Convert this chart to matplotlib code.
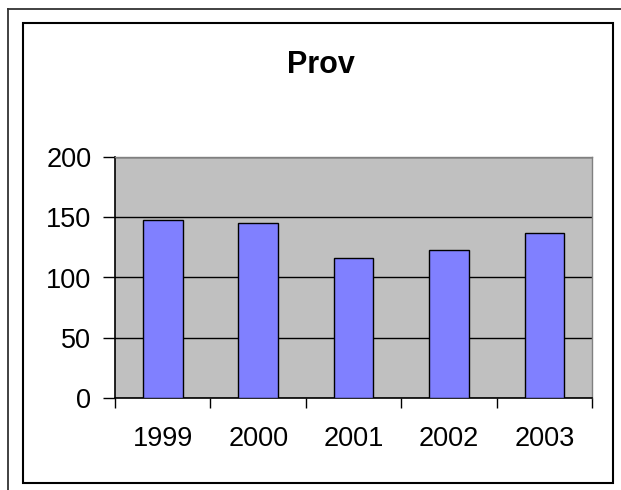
import matplotlib
matplotlib.use("Agg")
import matplotlib.pyplot as plt
from matplotlib.patches import Rectangle
from matplotlib.lines import Line2D

categories = ["1999", "2000", "2001", "2002", "2003"]
values = [148, 145, 116, 122.5, 137]
yticks = [0, 50, 100, 150, 200]
title = "Prov"

plt.rcParams['font.family'] = ['Liberation Sans', 'DejaVu Sans']

W, H = 621, 490
fig = plt.figure(figsize=(W / 100, H / 100), dpi=100)
fig.patch.set_facecolor("white")

# outer page border (left and top only visible)
fig.add_artist(Line2D([8 / W, 8 / W], [0, 1 - 9 / H], transform=fig.transFigure,
                      color="#333333", lw=1.3))
fig.add_artist(Line2D([8 / W, 1], [1 - 9 / H, 1 - 9 / H], transform=fig.transFigure,
                      color="#333333", lw=1.3))
# chart area border
fig.add_artist(Rectangle((22.5 / W, 1 - 483 / H), (612.7 - 22.5) / W, (483 - 23) / H,
                         transform=fig.transFigure, fill=False, edgecolor="black", lw=1.5))

left, right = 115 / W, 592.3 / W
bottom, top = 1 - 398.3 / H, 1 - 156.7 / H
ax = fig.add_axes([left, bottom, right - left, top - bottom])
ax.set_facecolor("#C0C0C0")

x = list(range(len(categories)))
ax.bar(x, values, width=0.415, color="#8080FF", edgecolor="black", linewidth=1.0, zorder=3)

ax.set_ylim(0, 200)
ax.set_xlim(-0.5, len(categories) - 0.5)
ax.set_yticks(yticks)
ax.set_yticklabels([str(t) for t in yticks], fontsize=19.5)
ax.yaxis.grid(True, color="black", lw=1.0, zorder=1)
ax.set_axisbelow(True)

ax.set_xticks([i - 0.5 for i in range(len(categories) + 1)])
ax.set_xticklabels([])
ax.set_xticks(x, minor=True)
ax.set_xticklabels(categories, minor=True, fontsize=19.5)
ax.tick_params(axis="x", which="minor", length=0, pad=20)
ax.tick_params(axis="x", which="major", direction="out", length=7, width=1.0)
ax.tick_params(axis="y", direction="out", length=9, width=1.0, pad=8)

for s in ["top", "right"]:
    ax.spines[s].set_color("#808080")
    ax.spines[s].set_linewidth(1.0)
for s in ["left", "bottom"]:
    ax.spines[s].set_color("black")
    ax.spines[s].set_linewidth(1.2)

fig.text(321 / W, 1 - 64.7 / H, title, ha="center", va="center",
         fontsize=22, fontweight="bold")

fig.savefig("out.png", dpi=100)
